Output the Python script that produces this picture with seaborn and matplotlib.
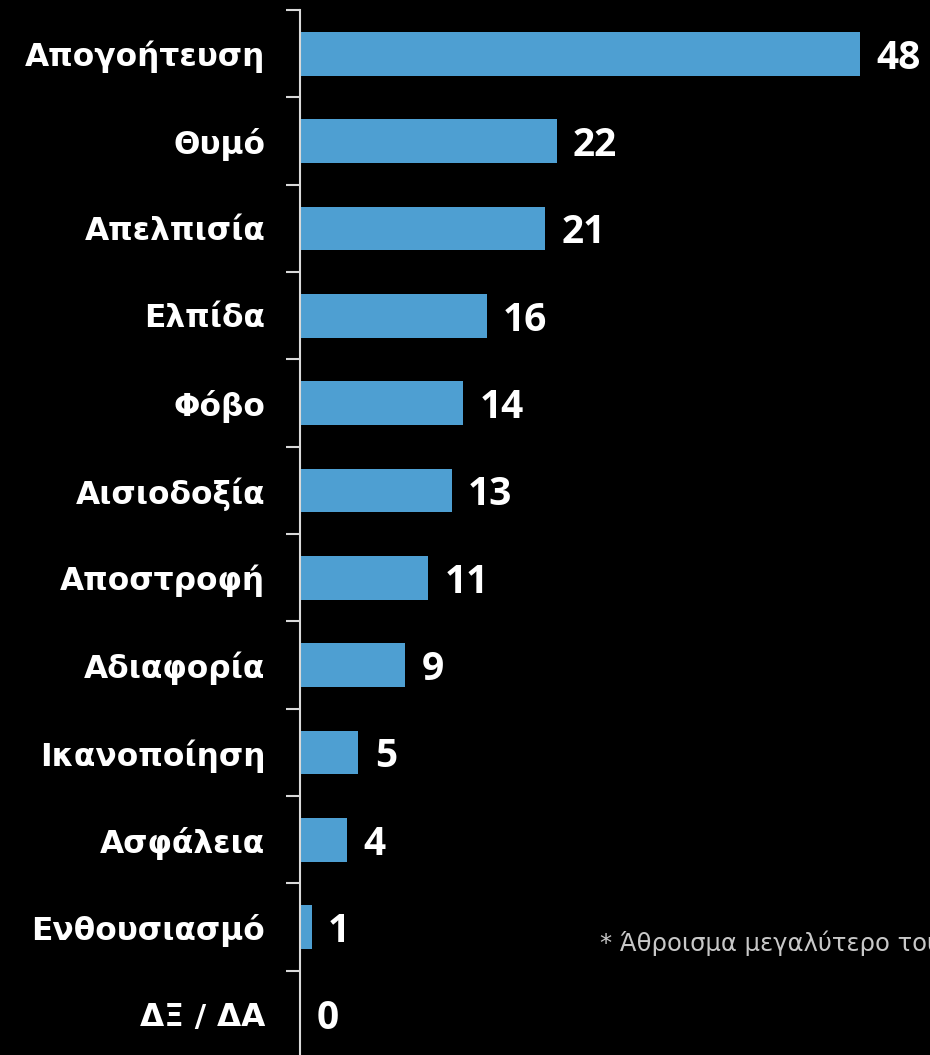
"""Horizontal bar chart of emotions, dark style."""

import matplotlib
matplotlib.use("Agg")
import matplotlib.pyplot as plt
import seaborn as sns
import pandas as pd

emotions = [
    "Απογοήτευση", "Θυμό", "Απελπισία", "Ελπίδα", "Φόβο", "Αισιοδοξία",
    "Αποστροφή", "Αδιαφορία", "Ικανοποίηση", "Ασφάλεια", "Ενθουσιασμό", "ΔΞ / ΔΑ",
]
counts = [48, 22, 21, 16, 14, 13, 11, 9, 5, 4, 1, 0]
footnote = "* Άθροισμα μεγαλύτερο του 100% λόγω πολλαπλών απαντήσεων"

sns.set_theme(style="white")
plt.rcParams["font.family"] = ["Open Sans", "DejaVu Sans"]

df = pd.DataFrame({"emotion": emotions, "count": counts})

fig = plt.figure(figsize=(9.3, 10.55), dpi=100, facecolor="black")
ax = fig.add_axes([300 / 930, -3 / 1055, 630 / 930, 1048 / 1055])
ax.set_facecolor("black")

sns.barplot(data=df, y="emotion", x="count", orient="h", color="#4E9FD2",
            saturation=1, width=0.5, linewidth=0, ax=ax)

ax.set_xlim(0, 54)
ax.set_ylim(len(emotions) - 0.5, -0.5)
ax.set_xlabel("")
ax.set_ylabel("")
ax.set_xticks([])

# ticks sit on the category boundaries, labels on the centres
ax.set_yticks([i - 0.5 for i in range(len(emotions))], minor=False)
ax.set_yticklabels([])
ax.set_yticks(range(len(emotions)), minor=True)
ax.set_yticklabels(emotions, minor=True)
ax.tick_params(axis="y", which="major", length=10, width=1.5, color="#d9d9d9",
               direction="out", left=True)
ax.tick_params(axis="y", which="minor", length=0, pad=25, labelsize=22.5,
               labelcolor="white")
for lbl in ax.get_yticklabels(minor=True):
    lbl.set_fontweight("bold")
    lbl.set_family(["DejaVu Sans"])

for s in ["top", "right", "bottom"]:
    ax.spines[s].set_visible(False)
ax.spines["left"].set_color("#d9d9d9")
ax.spines["left"].set_linewidth(1.5)

for i, v in enumerate(counts):
    ax.text(v + 1.4, i, str(v), va="center_baseline", ha="left", color="white",
            fontsize=28, fontweight="bold")

fig.text(600 / 930, 1 - 943 / 1055, footnote, color="#c8c8c8", fontsize=17.5,
         va="center", ha="left", family=["DejaVu Sans"])

fig.savefig("out.png", dpi=100, facecolor="black")
plt.close(fig)
